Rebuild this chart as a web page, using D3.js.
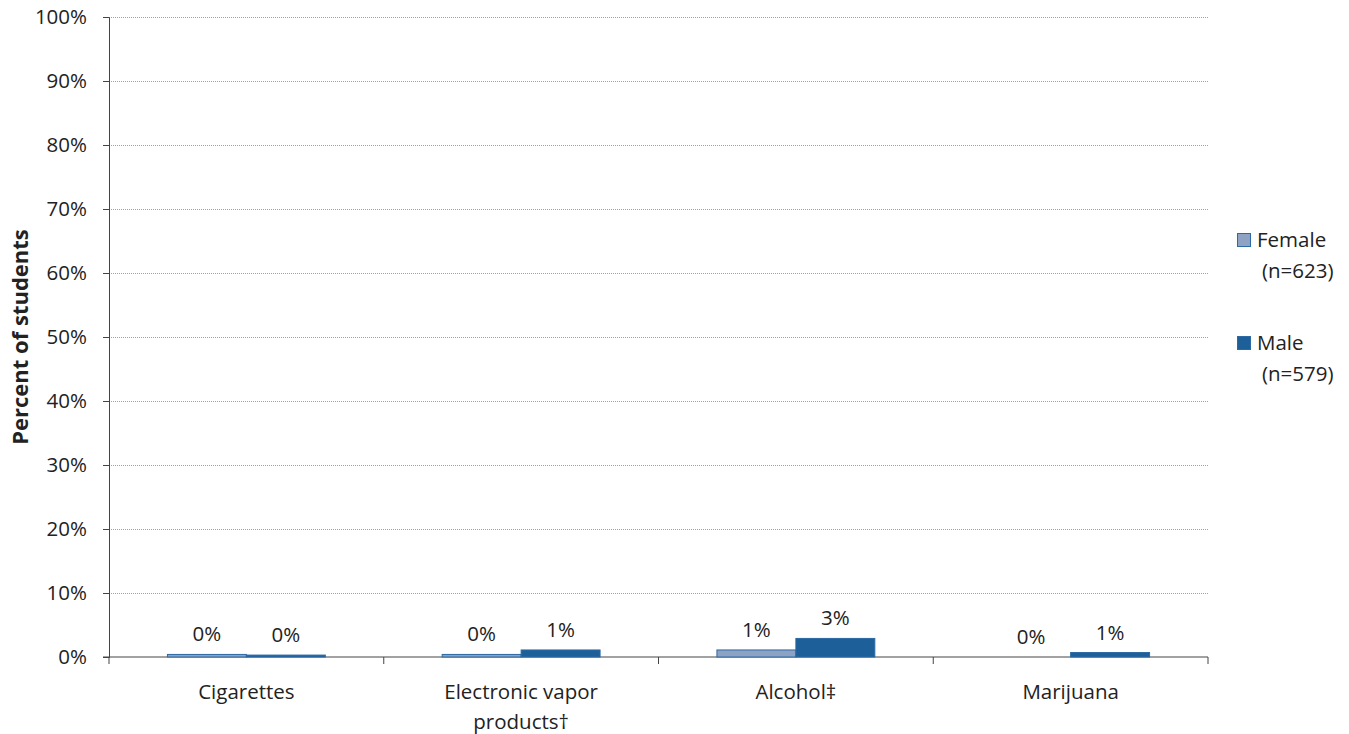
<!DOCTYPE html>
<html><head><meta charset="utf-8">
<script src="https://cdn.jsdelivr.net/npm/d3@7"></script>
<style>body{margin:0;background:#fff;} text{font-family:"Open Sans","Liberation Sans",sans-serif;fill:#222;}</style>
</head><body>
<svg id="c" width="1349" height="734"></svg>
<script>
const categories = [["Cigarettes"], ["Electronic vapor", "products\u2020"], ["Alcohol\u2021"], ["Marijuana"]];
const seriesNames = ["Female", "Male"];
const seriesN = ["(n=623)", "(n=579)"];
const femaleValues = [0.4, 0.4, 1.1, 0.0];
const maleValues = [0.3, 1.1, 2.9, 0.7];
const femaleLabels = ["0%", "0%", "1%", "0%"];
const maleLabels = ["0%", "1%", "3%", "1%"];
const yTicks = [0,10,20,30,40,50,60,70,80,90,100];

const svg = d3.select("#c");
const L = 109, R = 1208, T = 17, B = 657;
const x = d3.scaleBand().domain(d3.range(categories.length)).range([L, R]).paddingInner(0).paddingOuter(0);
const xs = d3.scaleBand().domain([0,1]).range([0, x.bandwidth()]).paddingInner(0).paddingOuter(0.74);
const y = d3.scaleLinear().domain([0,100]).range([B, T]);

// gridlines
svg.append("g").selectAll("line").data(yTicks.filter(d=>d>0)).join("line")
  .attr("x1", L).attr("x2", R).attr("y1", d=>y(d)+0.5).attr("y2", d=>y(d)+0.5)
  .attr("stroke", "#a0a0a0").attr("stroke-width", 1).attr("stroke-dasharray", "1,1");

// y axis
const ya = svg.append("g").attr("transform", `translate(${L},0)`)
  .call(d3.axisLeft(y).tickValues(yTicks).tickFormat(d=>d+"%").tickSize(6).tickPadding(16));
ya.select(".domain").attr("stroke", "#444");
ya.selectAll(".tick line").attr("stroke", "#444");
ya.selectAll("text").style("font-size", "20.5px").attr("fill", "#222");

// x axis
const xa = svg.append("g").attr("transform", `translate(0,${B})`);
xa.append("line").attr("x1", L-6).attr("x2", R).attr("stroke", "#444");
xa.selectAll("line.t").data(d3.range(categories.length+1)).join("line").attr("class","t")
  .attr("x1", i=>L + i*x.bandwidth()).attr("x2", i=>L + i*x.bandwidth())
  .attr("y1", 0).attr("y2", 7).attr("stroke", "#444");
xa.selectAll("text.c").data(categories).join("text").attr("class","c")
  .attr("text-anchor", "middle").style("font-size", "20.5px")
  .each(function(lines, i){
    d3.select(this).selectAll("tspan").data(lines).join("tspan")
      .attr("x", x(i) + x.bandwidth()/2).attr("y", (d,j)=>42 + j*30).text(d=>d);
  });

// bars
const colors = [{fill:"#8ea3c3", stroke:"#2d69a3"}, {fill:"#1c5f99", stroke:"#2d69a3"}];
const data = [femaleValues, maleValues];
const labels = [femaleLabels, maleLabels];
data.forEach((vals, s) => {
  const g = svg.append("g");
  g.selectAll("rect").data(vals).join("rect")
    .attr("x", (d,i)=>x(i)+xs(s)).attr("width", xs.bandwidth())
    .attr("y", d=>y(d)).attr("height", d=>B - y(d))
    .attr("fill", colors[s].fill)
    .attr("stroke", d=> d>0 ? colors[s].stroke : "none").attr("stroke-width", 1);
  g.selectAll("text").data(vals).join("text")
    .attr("x", (d,i)=>x(i)+xs(s)+xs.bandwidth()/2)
    .attr("y", d=>y(d) - 13)
    .attr("text-anchor", "middle").style("font-size", "20.5px")
    .text((d,i)=>labels[s][i]);
});

// y title
svg.append("text").attr("transform", "translate(28,337) rotate(-90)")
  .attr("text-anchor", "middle").style("font-size", "22px").style("font-weight", "bold")
  .text("Percent of students");

// legend
const lg = svg.append("g");
[0,1].forEach(s => {
  const ly = s===0 ? 240 : 343;
  lg.append("rect").attr("x", 1237.5).attr("y", ly-6.5).attr("width", 13).attr("height", 13)
    .attr("fill", colors[s].fill).attr("stroke", colors[s].stroke);
  lg.append("text").attr("x", 1257).attr("y", ly+7).style("font-size", "20.5px").text(seriesNames[s]);
  lg.append("text").attr("x", 1262).attr("y", ly+38).style("font-size", "20.5px").text(seriesN[s]);
});
</script>
</body></html>
